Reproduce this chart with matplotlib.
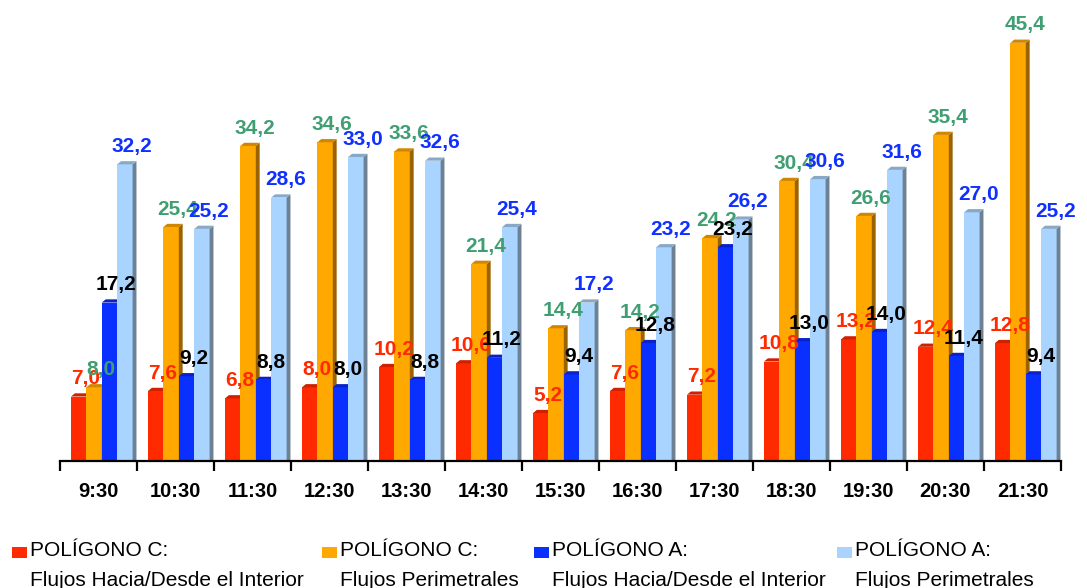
import numpy as np
import matplotlib.pyplot as plt
from matplotlib.patches import Polygon, Rectangle

plt.rcParams['font.family'] = ['Liberation Sans', 'DejaVu Sans']

horas = ['9:30', '10:30', '11:30', '12:30', '13:30', '14:30', '15:30',
         '16:30', '17:30', '18:30', '19:30', '20:30', '21:30']

c_interior = [7.0, 7.6, 6.8, 8.0, 10.2, 10.6, 5.2, 7.6, 7.2, 10.8, 13.2, 12.4, 12.8]
c_perimetral = [8.0, 25.4, 34.2, 34.6, 33.6, 21.4, 14.4, 14.2, 24.2, 30.4, 26.6, 35.4, 45.4]
a_interior = [17.2, 9.2, 8.8, 8.0, 8.8, 11.2, 9.4, 12.8, 23.2, 13.0, 14.0, 11.4, 9.4]
a_perimetral = [32.2, 25.2, 28.6, 33.0, 32.6, 25.4, 17.2, 23.2, 26.2, 30.6, 31.6, 27.0, 25.2]

series = [
    (c_interior, 'POLÍGONO C:\nFlujos Hacia/Desde el Interior'),
    (c_perimetral, 'POLÍGONO C:\nFlujos Perimetrales'),
    (a_interior, 'POLÍGONO A:\nFlujos Hacia/Desde el Interior'),
    (a_perimetral, 'POLÍGONO A:\nFlujos Perimetrales'),
]
# front / side / top colours and label colour per series
estilos = [
    ('#ff2a00', '#a81a00', '#d02000', '#ff2a00'),
    ('#ffa800', '#9a6200', '#d08600', '#3f9f72'),
    ('#0a30ff', '#00129a', '#0822c8', '#000000'),
    ('#a8d4ff', '#6c8294', '#88a8c8', '#1030ff'),
]

fig = plt.figure(figsize=(10.87, 5.88), dpi=100)
ax = fig.add_axes([60 / 1087, 127 / 588, 1001 / 1087, 444 / 588])

x = np.arange(len(horas))
ancho = 0.2
inicio = -0.357
ymax = 48.2
dx = 0.05
dy = 3.2 / 444 * ymax

for k, (valores, _) in enumerate(series):
    frente, lado, tapa, _c = estilos[k]
    izq = x + inicio + k * ancho
    ax.bar(izq, valores, width=ancho, align='edge', color=frente,
           linewidth=0, zorder=2)
    for xl, v in zip(izq, valores):
        xr = xl + ancho
        ax.add_patch(Polygon([(xr, 0), (xr + dx, 0), (xr + dx, v + dy), (xr, v)],
                             closed=True, facecolor=lado, edgecolor='none', zorder=2))
        ax.add_patch(Polygon([(xl, v), (xl + dx, v + dy), (xr + dx, v + dy), (xr, v)],
                             closed=True, facecolor=tapa, edgecolor='none', zorder=2))

for k, (valores, _) in enumerate(series):
    color = estilos[k][3]
    izq = x + inicio + k * ancho
    for xl, v in zip(izq, valores):
        ax.annotate(f'{v:.1f}'.replace('.', ','), (xl + ancho / 2, v),
                    xytext=(5, 6), textcoords='offset points',
                    ha='center', va='bottom', fontsize=15, fontweight='bold',
                    color=color, zorder=5)

ax.set_xlim(-0.5, len(horas) - 0.5)
ax.set_ylim(0, ymax)
ax.set_yticks([])
for s in ['top', 'right', 'left']:
    ax.spines[s].set_visible(False)
ax.spines['bottom'].set_linewidth(1.6)
ax.set_xticks(x)
ax.set_xticklabels(horas, fontsize=14.5, fontweight='bold')
ax.tick_params(axis='x', which='major', length=0, pad=15)
ax.set_xticks(np.arange(len(horas) + 1) - 0.5, minor=True)
ax.tick_params(axis='x', which='minor', length=7, width=1.6, color='black')

# legend drawn by hand: marker beside the first line of each label
leyenda_x = [12, 322, 534, 837]
for k, (_, etiqueta) in enumerate(series):
    x0 = leyenda_x[k]
    fig.patches.append(Rectangle((x0 / 1087, 30 / 588), 15 / 1087, 11 / 588,
                                 transform=fig.transFigure,
                                 facecolor=estilos[k][0], edgecolor='none'))
    linea1, linea2 = etiqueta.split('\n')
    fig.text((x0 + 18) / 1087, 37 / 588, linea1, fontsize=15,
             ha='left', va='center')
    fig.text((x0 + 18) / 1087, 8 / 588, linea2, fontsize=15,
             ha='left', va='center')

fig.savefig('out.png', dpi=100)
